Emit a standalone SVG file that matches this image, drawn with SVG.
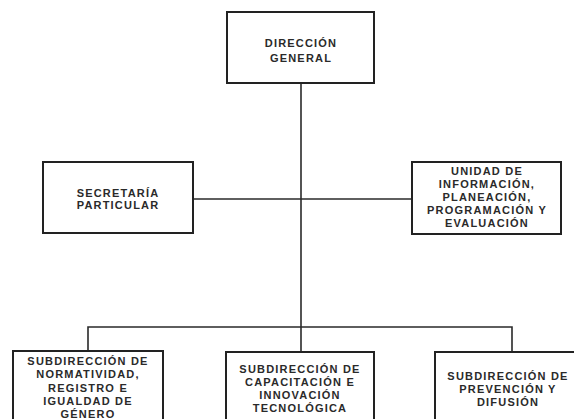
<svg xmlns="http://www.w3.org/2000/svg" width="574" height="419" viewBox="0 0 574 419">
<style>
.box{fill:#fff;stroke:#222;stroke-width:2}
.ln{fill:none;stroke:#2a2a2a;stroke-width:1.6}
text{font-family:"Liberation Sans",Arial,sans-serif;font-weight:bold;font-size:11px;letter-spacing:1.2px;fill:#2a2a2a;text-anchor:middle}
</style>
<rect width="574" height="419" fill="#fff"/>
<g id="connectors">
<line class="ln" x1="301" y1="83" x2="301" y2="352"/>
<line class="ln" x1="193" y1="199" x2="412" y2="199"/>
<polyline class="ln" points="88,351 88,327 512,327 512,352"/>
</g>
<g id="direccion-general">
<rect class="box" x="227" y="12" width="147" height="71"/>
<text x="301" y="47">DIRECCIÓN</text>
<text x="301" y="62">GENERAL</text>
</g>
<g id="secretaria-particular">
<rect class="box" x="43" y="162" width="150" height="71"/>
<text x="118" y="196.5">SECRETARÍA</text>
<text x="118" y="209">PARTICULAR</text>
</g>
<g id="unidad-informacion">
<rect class="box" x="412" y="162" width="149" height="72"/>
<text x="487" y="175">UNIDAD DE</text>
<text x="487" y="188">INFORMACIÓN,</text>
<text x="487" y="201">PLANEACIÓN,</text>
<text x="487" y="214">PROGRAMACIÓN Y</text>
<text x="487" y="227">EVALUACIÓN</text>
</g>
<g id="sub-normatividad">
<rect class="box" x="13" y="351" width="150" height="100"/>
<text x="88" y="365">SUBDIRECCIÓN DE</text>
<text x="88" y="378">NORMATIVIDAD,</text>
<text x="88" y="391.5">REGISTRO E</text>
<text x="88" y="405">IGUALDAD DE</text>
<text x="88" y="418">GÉNERO</text>
</g>
<g id="sub-capacitacion">
<rect class="box" x="226" y="352" width="148" height="100"/>
<text x="300" y="373">SUBDIRECCIÓN DE</text>
<text x="300" y="386">CAPACITACIÓN E</text>
<text x="300" y="399">INNOVACIÓN</text>
<text x="300" y="412">TECNOLÓGICA</text>
</g>
<g id="sub-prevencion">
<rect class="box" x="435" y="352" width="160" height="100"/>
<text x="508" y="380">SUBDIRECCIÓN DE</text>
<text x="508" y="393">PREVENCIÓN Y</text>
<text x="508" y="406">DIFUSIÓN</text>
</g>
</svg>
